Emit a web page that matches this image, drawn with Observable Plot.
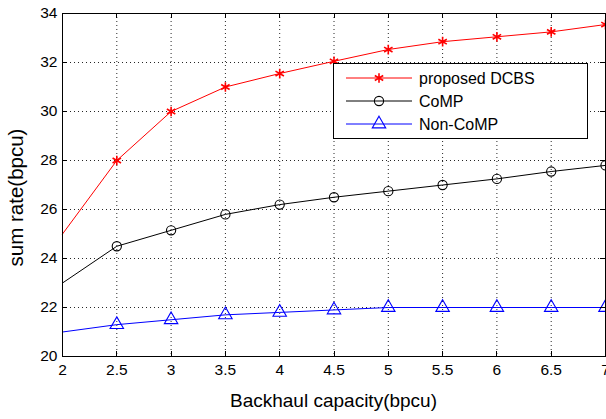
<!DOCTYPE html>
<html>
<head>
<meta charset="utf-8">
<script src="https://cdn.jsdelivr.net/npm/d3@7"></script>
<script src="https://cdn.jsdelivr.net/npm/@observablehq/plot@0.6"></script>
<style>
  html, body { margin: 0; padding: 0; background: white; }
  #chart svg { display: block; }
</style>
</head>
<body>
<div id="chart"></div>
<script>
// ---- data ----
const capacity = [2, 2.5, 3, 3.5, 4, 4.5, 5, 5.5, 6, 6.5, 7];
const dcbs     = [25, 28, 30, 31, 31.55, 32.05, 32.53, 32.85, 33.05, 33.25, 33.55];
const comp     = [23, 24.5, 25.15, 25.8, 26.2, 26.5, 26.75, 27.0, 27.25, 27.55, 27.8];
const noncomp  = [21, 21.3, 21.5, 21.7, 21.8, 21.9, 22.0, 22.0, 22.0, 22.0, 22.0];
const xTicks = [2, 2.5, 3, 3.5, 4, 4.5, 5, 5.5, 6, 6.5, 7];
const yTicks = [20, 22, 24, 26, 28, 30, 32, 34];
const seriesNames = ["proposed DCBS", "CoMP", "Non-CoMP"];
const seriesColors = ["#ff0000", "#000000", "#0000ff"];
const seriesSymbols = ["asterisk", "circle", "triangle"];
const xLabel = "Backhaul capacity(bpcu)";
const yLabel = "sum rate(bpcu)";

const seriesValues = [dcbs, comp, noncomp];
const rows = [];
seriesNames.forEach((name, s) => {
  capacity.forEach((c, i) => rows.push({series: name, s, x: c, y: seriesValues[s][i]}));
});
const markerRows = rows.filter(d => d.x >= 2.5);

const font = "'Liberation Sans', Arial, Helvetica, sans-serif";
const fmt = d => String(d);

const marks = [
  Plot.gridX(xTicks, {stroke: "#000", strokeOpacity: 0.85, strokeDasharray: "1,3"}),
  Plot.gridY(yTicks, {stroke: "#000", strokeOpacity: 0.85, strokeDasharray: "1,3"}),
  Plot.axisX({ticks: xTicks, tickSize: 0, tickPadding: 7, label: null, fontSize: 15.5, tickFormat: fmt}),
  Plot.axisY({ticks: yTicks, tickSize: 0, tickPadding: 5, label: null, fontSize: 15.5, tickFormat: fmt})
];
seriesNames.forEach((name, s) => {
  const data = rows.filter(d => d.s === s);
  marks.push(Plot.line(data, {x: "x", y: "y", stroke: seriesColors[s], strokeWidth: 1}));
  const md = markerRows.filter(d => d.s === s);
  marks.push(Plot.dot(md, {x: "x", y: "y", stroke: seriesColors[s], fill: "none",
    symbol: seriesSymbols[s], r: s === 2 ? 5 : 4.6, strokeWidth: s === 0 ? 1.6 : 1.1}));
});
marks.push(Plot.frame({stroke: "#000", strokeWidth: 1}));

const plot = Plot.plot({
  width: 606,
  height: 419,
  marginLeft: 62,
  marginRight: 1,
  marginTop: 13,
  marginBottom: 63,
  style: {fontFamily: font, fontSize: "15.5px", color: "#000", background: "white", overflow: "visible"},
  x: {domain: [2, 7]},
  y: {domain: [20, 34]},
  marks
});
document.getElementById("chart").appendChild(plot);

// ---- inward ticks, labels and legend ----
const svg = d3.select(plot);
const sx = plot.scale("x"), sy = plot.scale("y");
const X0 = sx.apply(2), X1 = sx.apply(7), Y0 = sy.apply(20), Y1 = sy.apply(34);
const tg = svg.append("g").attr("stroke", "#000").attr("stroke-width", 1);
xTicks.forEach(t => {
  const px = Math.round(sx.apply(t)) + 0.5;
  tg.append("line").attr("x1", px).attr("x2", px).attr("y1", Y0).attr("y2", Y0 - 5);
  tg.append("line").attr("x1", px).attr("x2", px).attr("y1", Y1).attr("y2", Y1 + 5);
});
yTicks.forEach(t => {
  const py = Math.round(sy.apply(t)) + 0.5;
  tg.append("line").attr("x1", X0).attr("x2", X0 + 5).attr("y1", py).attr("y2", py);
  tg.append("line").attr("x1", X1).attr("x2", X1 - 5).attr("y1", py).attr("y2", py);
});

svg.append("text")
  .attr("x", (X0 + X1) / 2).attr("y", 407)
  .attr("text-anchor", "middle")
  .style("font-family", font).style("font-size", "19px").attr("fill", "#000")
  .text(xLabel);
svg.append("text")
  .attr("transform", `translate(23,${(Y0 + Y1) / 2 + 13}) rotate(-90)`)
  .attr("text-anchor", "middle")
  .style("font-family", font).style("font-size", "20.5px").attr("fill", "#000")
  .text(yLabel);

// legend
const lg = svg.append("g");
lg.append("rect").attr("x", 333.5).attr("y", 63.5).attr("width", 254).attr("height", 75)
  .attr("fill", "white").attr("stroke", "#000").attr("stroke-width", 1);
const rowY = [78, 101, 124];
const symMap = {asterisk: d3.symbolAsterisk, circle: d3.symbolCircle, triangle: d3.symbolTriangle};
seriesNames.forEach((name, s) => {
  const y = rowY[s];
  lg.append("line").attr("x1", 346).attr("x2", 412).attr("y1", y).attr("y2", y)
    .attr("stroke", seriesColors[s]).attr("stroke-width", 1);
  const r = s === 2 ? 5 : 4.6;
  lg.append("path").attr("transform", `translate(379,${y})`)
    .attr("d", d3.symbol(symMap[seriesSymbols[s]], Math.PI * r * r)())
    .attr("fill", "none").attr("stroke", seriesColors[s]).attr("stroke-width", s === 0 ? 1.6 : 1.1);
  lg.append("text").attr("x", 419).attr("y", y + 5.5)
    .attr("text-anchor", "start")
    .style("font-family", font).style("font-size", "16px").attr("fill", "#000")
    .text(name);
});
</script>
</body>
</html>
